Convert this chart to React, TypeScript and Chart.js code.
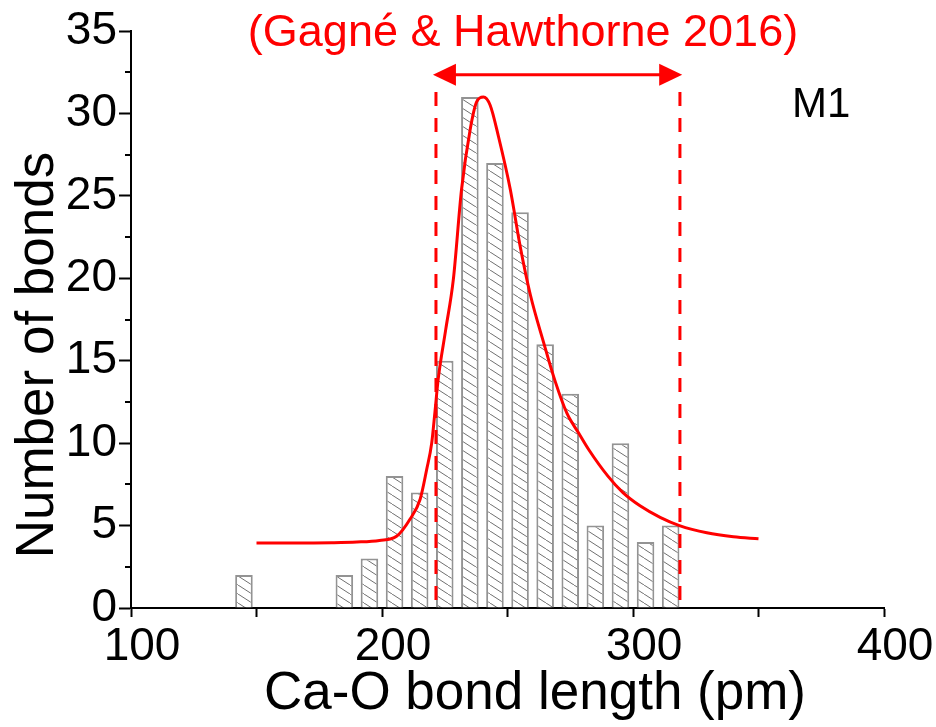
import React, { useEffect, useRef } from 'react';
import { Chart, registerables } from 'chart.js';

Chart.register(...registerables);

// Histogram of Ca-O bond lengths (bin centres, pm) and counts
const BIN_CENTERS = [145, 185, 195, 205, 215, 225, 235, 245, 255, 265, 275, 285, 295, 305, 315];
const BIN_COUNTS = [2, 2, 3, 8, 7, 15, 31, 27, 24, 16, 13, 5, 10, 4, 5];

// Fitted curve
const FIT_X = [150, 160, 170, 180, 190, 199, 205.8, 211.2, 215.2, 217.8, 219.8, 221.1, 222.4, 225.4, 228.4, 231.7, 235.1, 237.7, 240.4, 243.1, 246.4, 251.1, 255.1, 259.1, 264.4, 269.1, 273.7, 278.4, 282.4, 290, 296, 302.8, 310.8, 318.5, 329.4, 340, 350];
const FIT_Y = [3.95, 3.95, 3.95, 3.96, 4.0, 4.1, 4.35, 5.4, 6.6, 8.4, 10.0, 11.9, 13.9, 16.9, 19.9, 25.4, 29.0, 30.7, 31.0, 30.5, 28.6, 25.4, 21.9, 19.0, 16.1, 13.7, 11.8, 10.6, 9.6, 8.0, 7.0, 6.2, 5.5, 5.0, 4.56, 4.32, 4.2];

// Literature range (Gagné & Hawthorne 2016)
const RANGE_LIMITS = [221.5, 318.7];
const RANGE_TOP = 31.3;
const ARROW_TIPS = [220.3, 319.6];
const ARROW_Y = 32.35;

// Axes
const X_MIN = 100;
const X_MAX = 400;
const X_STEP = 50;
const X_LABELED = [100, 200, 300, 400];
const Y_MIN = 0;
const Y_MAX = 35;
const Y_STEP = 5;
const Y_MINOR = [2.5, 7.5, 12.5, 17.5, 22.5, 27.5, 32.5];

// Texts
const TITLE_TEXT = '(Gagné & Hawthorne 2016)';
const PANEL_LABEL = 'M1';
const X_TITLE = 'Ca-O bond length (pm)';
const Y_TITLE = 'Number of bonds';

const FONT = '"Liberation Sans", Arial, sans-serif';
const RED = '#ff0000';

function makeHatch(ctx: CanvasRenderingContext2D): CanvasPattern | string {
  const c = document.createElement('canvas');
  const w = 14;
  const h = 9;
  c.width = w;
  c.height = h;
  const g = c.getContext('2d');
  if (!g) return '#ffffff';
  g.fillStyle = '#ffffff';
  g.fillRect(0, 0, w, h);
  g.strokeStyle = '#707070';
  g.lineWidth = 1;
  for (const k of [-1, 0, 1]) {
    g.beginPath();
    g.moveTo(k * w, 0);
    g.lineTo(k * w + w, h);
    g.stroke();
  }
  return ctx.createPattern(c, 'repeat') || '#ffffff';
}

const annotationPlugin = {
  id: 'annotations',
  afterDraw(chart: any) {
    const { ctx, chartArea } = chart;
    const xs = chart.scales.x;
    const ys = chart.scales.y;
    ctx.save();

    // minor y ticks
    ctx.strokeStyle = '#000';
    ctx.lineWidth = 2;
    for (const v of Y_MINOR) {
      const py = Math.round(ys.getPixelForValue(v));
      ctx.beginPath();
      ctx.moveTo(chartArea.left, py);
      ctx.lineTo(chartArea.left - 6, py);
      ctx.stroke();
    }

    // double arrow
    const ay = ys.getPixelForValue(ARROW_Y);
    const ax0 = xs.getPixelForValue(ARROW_TIPS[0]);
    const ax1 = xs.getPixelForValue(ARROW_TIPS[1]);
    const headL = 23;
    const headW = 11;
    ctx.strokeStyle = RED;
    ctx.fillStyle = RED;
    ctx.lineWidth = 3;
    ctx.beginPath();
    ctx.moveTo(ax0 + headL - 2, ay);
    ctx.lineTo(ax1 - headL + 2, ay);
    ctx.stroke();
    ctx.beginPath();
    ctx.moveTo(ax0, ay);
    ctx.lineTo(ax0 + headL, ay - headW);
    ctx.lineTo(ax0 + headL, ay + headW);
    ctx.closePath();
    ctx.fill();
    ctx.beginPath();
    ctx.moveTo(ax1, ay);
    ctx.lineTo(ax1 - headL, ay - headW);
    ctx.lineTo(ax1 - headL, ay + headW);
    ctx.closePath();
    ctx.fill();

    // title
    ctx.font = `45px ${FONT}`;
    ctx.fillStyle = RED;
    ctx.textAlign = 'center';
    ctx.textBaseline = 'alphabetic';
    ctx.fillText(TITLE_TEXT, chartArea.left + 392, chartArea.top + 15);

    // panel label
    ctx.font = `42px ${FONT}`;
    ctx.fillStyle = '#000';
    ctx.textAlign = 'left';
    ctx.fillText(PANEL_LABEL, chartArea.left + 661, chartArea.top + 86);

    // axis titles
    ctx.font = `53px ${FONT}`;
    ctx.textAlign = 'center';
    ctx.fillText(X_TITLE, chartArea.left + 404, chartArea.bottom + 101);

    ctx.save();
    ctx.translate(chartArea.left - 78, chartArea.top + 324);
    ctx.rotate(-Math.PI / 2);
    ctx.fillText(Y_TITLE, 0, 0);
    ctx.restore();

    ctx.restore();
  },
};

export default function App() {
  const ref = useRef<HTMLCanvasElement | null>(null);

  useEffect(() => {
    const canvas = ref.current;
    if (!canvas) return;
    const ctx = canvas.getContext('2d');
    if (!ctx) return;
    const hatch = makeHatch(ctx);

    const chart = new Chart(ctx, {
      type: 'bar',
      data: {
        datasets: [
          {
            type: 'bar',
            label: 'bonds',
            data: BIN_CENTERS.map((x, i) => ({ x, y: BIN_COUNTS[i] })),
            backgroundColor: hatch as any,
            borderColor: '#939393',
            borderWidth: 2,
            barPercentage: 0.7,
            categoryPercentage: 1,
            order: 3,
          } as any,
          {
            type: 'line',
            label: 'fit',
            data: FIT_X.map((x, i) => ({ x, y: FIT_Y[i] })),
            borderColor: RED,
            borderWidth: 3,
            pointRadius: 0,
            fill: false,
            cubicInterpolationMode: 'monotone',
            order: 1,
          } as any,
          ...RANGE_LIMITS.map((lx, i) => ({
            type: 'line',
            label: 'range' + i,
            data: [
              { x: lx, y: RANGE_TOP },
              { x: lx, y: Y_MIN },
            ],
            borderColor: RED,
            borderWidth: 3,
            borderDash: [14, 12],
            pointRadius: 0,
            fill: false,
            order: 2,
          })) as any,
        ],
      },
      options: {
        animation: false,
        responsive: false,
        events: [],
        layout: { padding: { top: 31, right: 52, left: 0, bottom: 0 } },
        plugins: {
          legend: { display: false },
          tooltip: { enabled: false },
          title: { display: false },
        },
        scales: {
          x: {
            type: 'linear',
            min: X_MIN,
            max: X_MAX,
            offset: false,
            position: 'bottom',
            ticks: {
              stepSize: X_STEP,
              autoSkip: false,
              maxRotation: 0,
              padding: 3,
              labelOffset: 11,
              color: '#000',
              font: { family: FONT, size: 46 },
              callback: (v: any) => (X_LABELED.includes(Number(v)) ? String(v) : ''),
            },
            grid: {
              offset: false,
              drawOnChartArea: false,
              drawTicks: true,
              tickLength: 9,
              tickWidth: 2,
              tickColor: '#000',
            },
            border: { display: true, color: '#000', width: 2 },
            afterFit: (s: any) => {
              s.height = 119;
            },
          },
          y: {
            type: 'linear',
            min: Y_MIN,
            max: Y_MAX,
            position: 'left',
            ticks: {
              stepSize: Y_STEP,
              padding: 2,
              color: '#000',
              font: { family: FONT, size: 46 },
            },
            grid: {
              offset: false,
              drawOnChartArea: false,
              drawTicks: true,
              tickLength: 12,
              tickWidth: 2,
              tickColor: '#000',
            },
            border: { display: true, color: '#000', width: 2 },
            afterFit: (s: any) => {
              s.width = 131;
            },
          },
        },
      } as any,
      plugins: [annotationPlugin],
    });

    return () => chart.destroy();
  }, []);

  return (
    <canvas
      ref={ref}
      width={936}
      height={727}
      style={{ position: 'absolute', left: 0, top: 0, display: 'block', width: 936, height: 727, background: '#fff' }}
    />
  );
}
